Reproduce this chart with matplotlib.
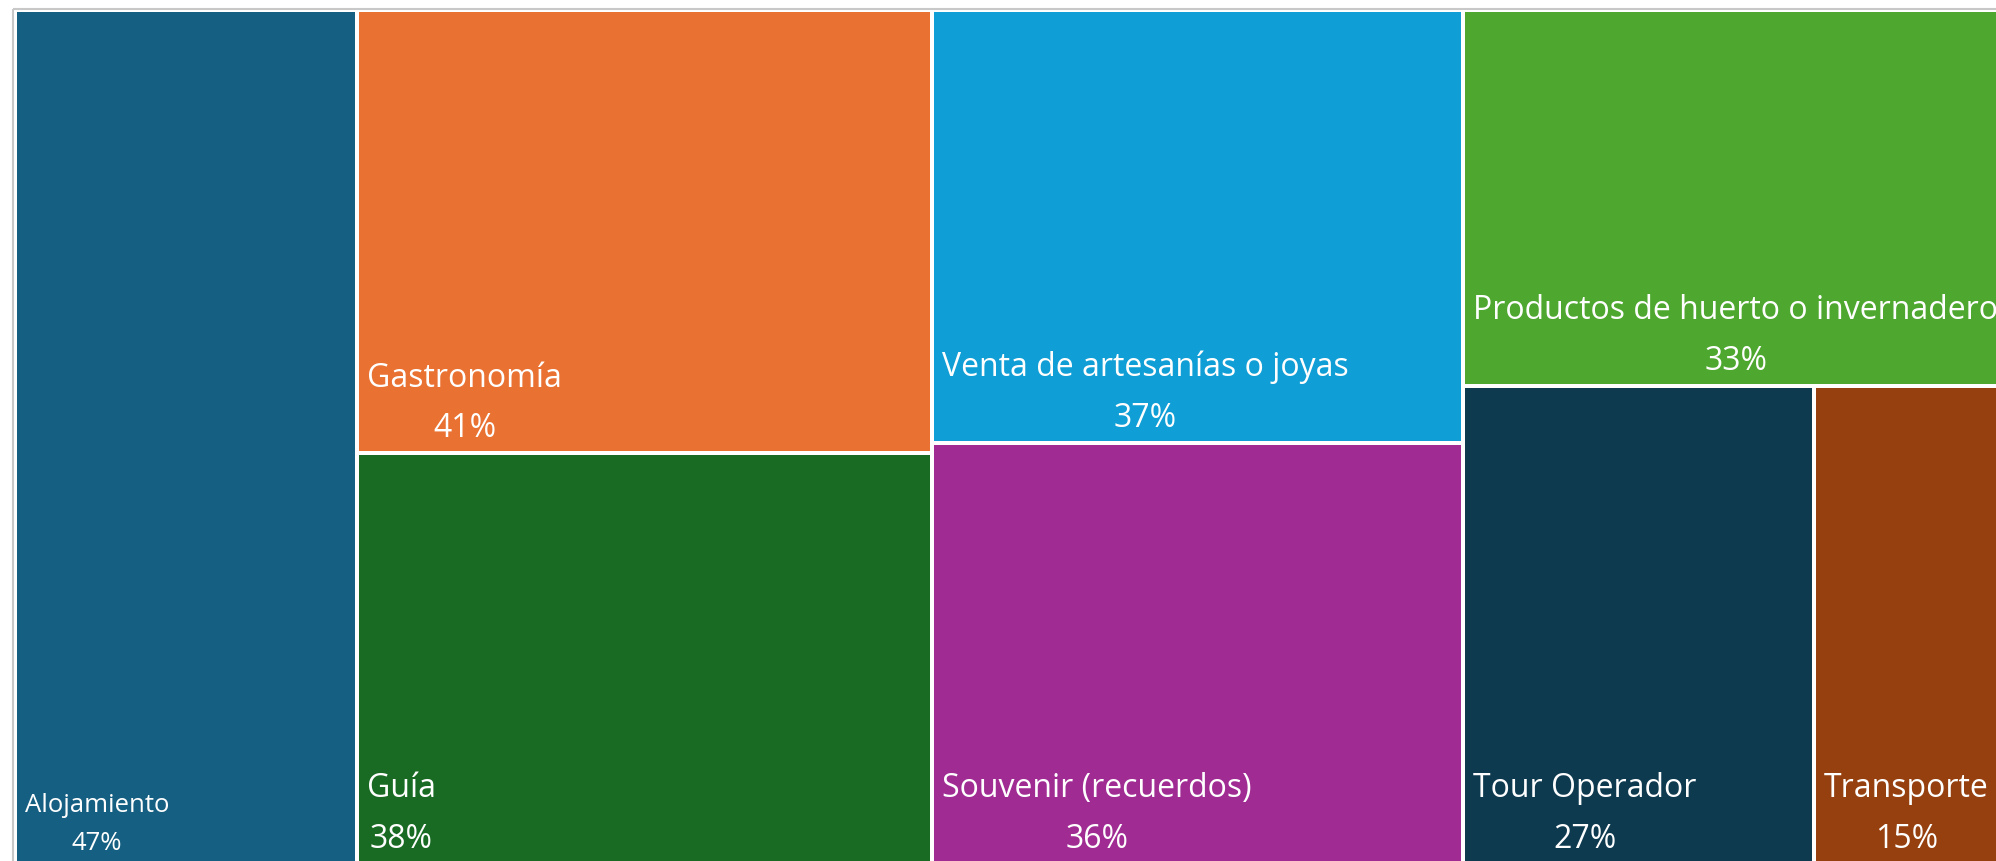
import matplotlib.pyplot as plt
from matplotlib.patches import Rectangle

# data
labels = ['Alojamiento', 'Gastronomía', 'Guía', 'Venta de artesanías o joyas',
          'Souvenir (recuerdos)', 'Productos de huerto o invernadero',
          'Tour Operador', 'Transporte']
values = [47, 41, 38, 37, 36, 33, 27, 15]
colors = ['#156082', '#E97132', '#196B24', '#0F9ED5',
          '#A02B93', '#4EA72E', '#0E3A50', '#96400F']
# column grouping of the tiles (index lists); a nested list is a row inside the column
columns = [[0], [1, 2], [3, 4], [5, [6, 7]]]

plt.rcParams['font.family'] = ['Open Sans', 'DejaVu Sans']

fig = plt.figure(figsize=(19.96, 8.62), dpi=100)
ax = fig.add_axes([0, 0, 1, 1])
ax.set_xlim(0, 1996)
ax.set_ylim(862, 0)
ax.axis('off')

# treemap area in pixel coords (runs a bit past the right edge)
X0, Y0, W, H = 15, 11, 1994, 854
gap = 4
total = float(sum(values))


def weight(item):
    if isinstance(item, list):
        return sum(values[i] for i in item)
    return values[item]


rects = {}
x = X0
for col in columns:
    cw = W * sum(weight(it) for it in col) / total
    y = Y0
    colsum = sum(weight(it) for it in col)
    for it in col:
        h = H * weight(it) / colsum
        if isinstance(it, list):
            xx = x
            for j in it:
                w = cw * values[j] / weight(it)
                rects[j] = (xx, y, w, h)
                xx += w
        else:
            rects[it] = (x, y, cw, h)
        y += h
    x += cw

# outer border
ax.add_patch(Rectangle((X0 - 2, Y0 - 1.5), W + 10, H + 10, facecolor='none',
                       edgecolor='#c8c8c8', linewidth=1.5))

for i, (rx, ry, rw, rh) in rects.items():
    ax.add_patch(Rectangle((rx + gap / 2, ry + gap / 2), rw - gap, rh - gap,
                           facecolor=colors[i], edgecolor='none'))
    fs = 18.5 if i == 0 else 23
    ls = 1.7 if i == 0 else 1.7
    ax.text(rx + gap / 2 + 8, ry + rh - gap / 2 - 7, f'{labels[i]}\n{values[i]}%',
            color='white', fontsize=fs, ha='left', va='bottom',
            multialignment='center', linespacing=ls, clip_on=True)

fig.savefig('out.png', dpi=100)
